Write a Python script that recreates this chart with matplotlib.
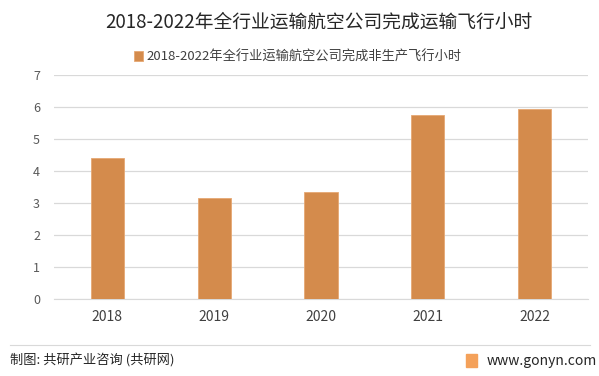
import numpy as np
import matplotlib.pyplot as plt
from matplotlib.patches import Rectangle

plt.rcParams['font.family'] = ['Noto Sans CJK SC', 'DejaVu Sans']

years = ['2018', '2019', '2020', '2021', '2022']
hours = [4.41, 3.17, 3.34, 5.76, 5.93]
title = '2018-2022年全行业运输航空公司完成运输飞行小时'
series_name = '2018-2022年全行业运输航空公司完成非生产飞行小时'

fig = plt.figure(figsize=(5.99, 3.76), dpi=100)
ax = fig.add_axes([54 / 599, 1 - 299 / 376, 534 / 599, 224 / 376])

x = np.arange(len(years))
bars = ax.bar(x, hours, width=0.31, color='#D48B4C', edgecolor='#E6A873',
              linewidth=0.6, label=series_name, zorder=3)

ax.set_xlim(-0.5, len(years) - 0.5)
ax.set_ylim(0, 7)
ax.set_yticks(range(0, 8))
ax.set_xticks(x)
ax.set_xticklabels(years)
ax.tick_params(axis='both', length=0, labelsize=9, colors='#404040')
ax.tick_params(axis='y', pad=10, colors='#595959')
ax.tick_params(axis='x', pad=8, labelsize=10)
ax.grid(axis='y', color='#D9D9D9', linewidth=0.9, zorder=0)
for s in ['top', 'right', 'left']:
    ax.spines[s].set_visible(False)
ax.spines['bottom'].set_color('#D9D9D9')

fig.text(0.532, 1 - 22 / 376, title, ha='center', va='center', fontsize=13.5, color='#262626')
fig.legend(handles=[bars], labels=[series_name], loc='center', bbox_to_anchor=(0.497, 1 - 57 / 376),
           frameon=False, fontsize=9.5, handlelength=0.7, handleheight=0.7, handletextpad=0.3,
           labelcolor='#404040')

# footer
fig.add_artist(plt.Line2D([10 / 599, 590 / 599], [1 - 345 / 376] * 2, color='#D9D9D9', linewidth=0.8))
fig.text(10 / 599, 1 - 361 / 376, '制图: 共研产业咨询 (共研网)', ha='left', va='center',
         fontsize=9.5, color='#262626', fontweight='medium')
fig.text(597 / 599, 1 - 361 / 376, 'www.gonyn.com', ha='right', va='center',
         fontsize=10, color='#262626')
fig.add_artist(Rectangle((466 / 599, 1 - 367 / 376), 11 / 599, 13 / 376,
                         transform=fig.transFigure, color='#F4A15A'))

fig.savefig('out.png', dpi=100)
